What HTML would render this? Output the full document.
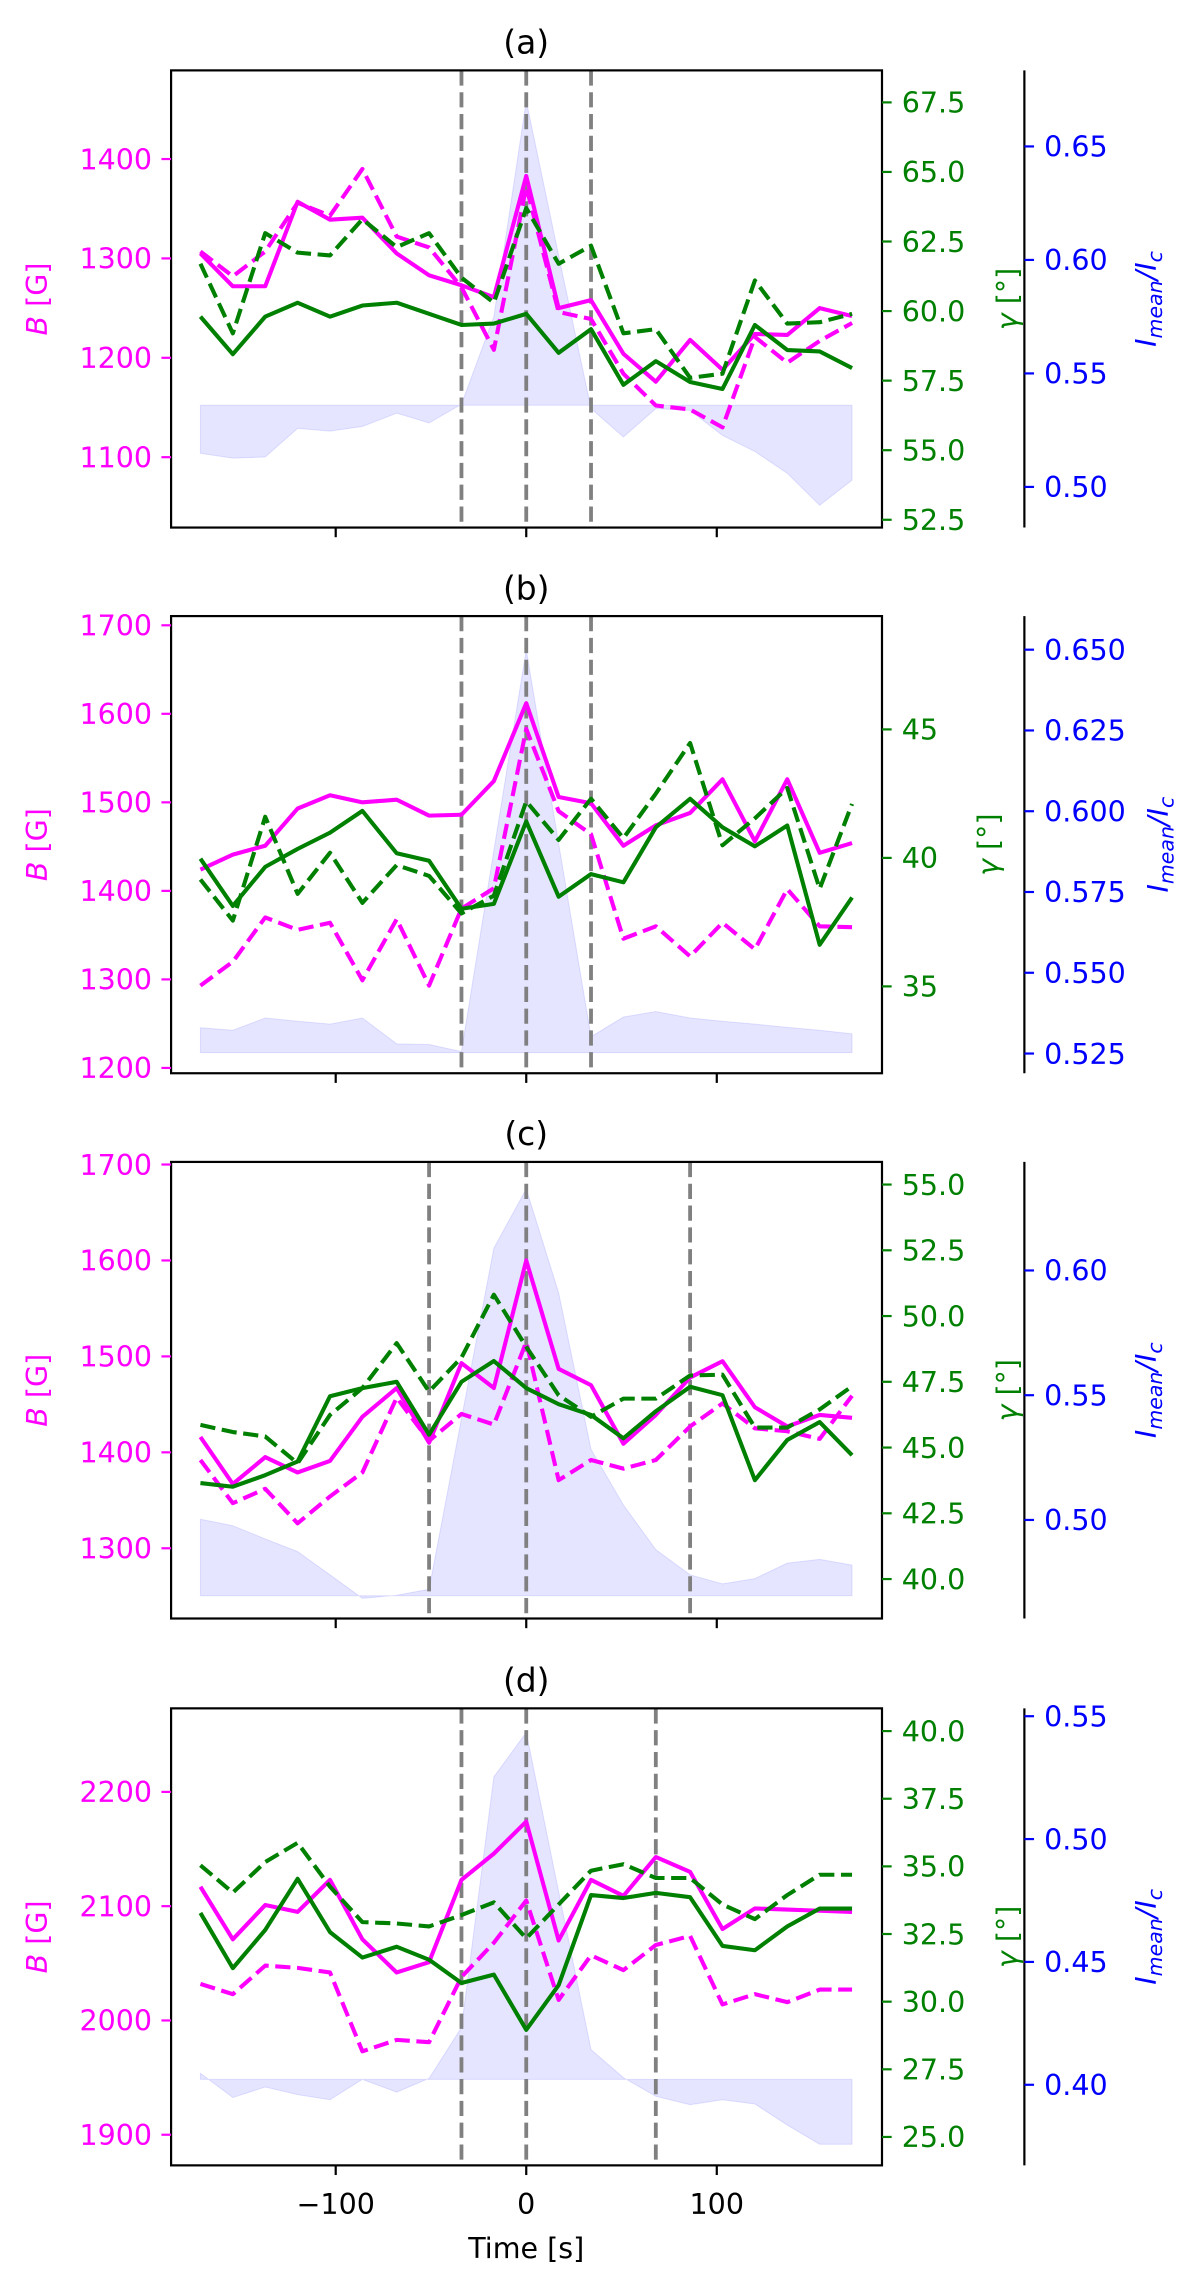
<!DOCTYPE html>
<html><head><meta charset="utf-8"><title>Time series panels</title>
<style>html,body{margin:0;padding:0;background:#fff}svg{display:block}</style></head>
<body>
<svg id="fig" xmlns="http://www.w3.org/2000/svg" width="1200" height="2282" viewBox="0 0 820 1559.4" font-family="'DejaVu Sans','Liberation Sans',sans-serif">
<rect width="820" height="1559.4" fill="#fff"/>
</svg>
<script>
// ---- data ----
const times = [-171,-154,-137,-120,-103,-86,-68,-51,-34,-17,0,17,34,51,68,86,103,120,137,154,171];
const panelLabels = ['(a)','(b)','(c)','(d)'];
const markerTimes = [[-34,0,34],[-34,0,34],[-51,0,86],[-34,0,68]];

const aBsolid = [1305,1272,1272,1357,1339,1341,1305,1283,1273,1261,1383,1250,1258,1204,1176,1218,1188,1224,1223,1250,1242];
const aBdash  = [1307,1282,1307,1356,1343,1390,1322,1311,1271,1208,1372,1246,1239,1184,1152,1148,1130,1221,1195,1217,1235];
const aGsolid = [59.8,58.45,59.8,60.3,59.8,60.2,60.3,59.9,59.5,59.55,59.9,58.5,59.35,57.35,58.2,57.45,57.2,59.5,58.6,58.55,57.95];
const aGdash  = [61.7,59.2,62.8,62.1,62.0,63.3,62.3,62.8,61.2,60.3,63.7,61.7,62.35,59.2,59.35,57.6,57.75,61.1,59.55,59.6,59.9];
const aI      = [0.5148,0.5127,0.5132,0.5258,0.5246,0.5266,0.5325,0.5282,0.5364,0.575,0.670,0.602,0.5345,0.522,0.5345,0.5337,0.5227,0.5156,0.506,0.4919,0.503];
const aIbase  = 0.536;

const bBsolid = [1424,1441,1451,1493,1508,1500,1503,1485,1486,1524,1612,1506,1499,1451,1474,1488,1526,1456,1526,1443,1454];
const bBdash  = [1293,1320,1370,1356,1364,1299,1368,1293,1380,1403,1583,1490,1464,1346,1360,1326,1364,1334,1402,1360,1359];
const bGsolid = [39.97,38.13,39.65,40.35,40.98,41.83,40.18,39.89,38.02,38.21,41.42,38.49,39.37,39.05,41.19,42.30,41.19,40.45,41.26,36.62,38.46];
const bGdash  = [39.16,37.56,41.6,38.6,40.2,38.25,39.72,39.3,37.84,38.53,42.2,40.7,42.3,40.77,42.5,44.47,40.49,41.54,42.72,38.8,42.1];
const bI      = [0.533,0.5322,0.536,0.535,0.5341,0.536,0.528,0.5278,0.5256,0.5878,0.65,0.59,0.5302,0.5363,0.538,0.536,0.535,0.5341,0.5331,0.5322,0.5311];
const bIbase  = 0.5253;

const cBsolid = [1416,1367,1395,1379,1391,1437,1467,1410,1493,1467,1600,1487,1470,1409,1439,1478,1495,1447,1427,1439,1436];
const cBdash  = [1392,1347,1362,1326,1354,1379,1457,1412,1440,1429,1515,1371,1392,1383,1392,1427,1451,1425,1422,1414,1459];
const cGsolid = [43.65,43.51,43.95,44.47,46.95,47.26,47.5,45.49,47.5,48.29,47.26,46.65,46.24,45.35,46.38,47.31,46.99,43.76,45.29,45.97,44.71];
const cGdash  = [45.86,45.59,45.42,44.4,46.24,47.26,48.97,47.13,48.42,50.81,48.83,46.99,46.17,46.86,46.86,47.74,47.77,45.76,45.76,46.45,47.33];
const cI      = [0.5003,0.4977,0.4924,0.4873,0.478,0.4686,0.4698,0.4722,0.5406,0.6089,0.6327,0.591,0.5283,0.506,0.4881,0.478,0.4744,0.4765,0.4827,0.4842,0.4819];
const cIbase  = 0.4696;

const dBsolid = [2117,2071,2101,2095,2123,2071,2042,2051,2123,2146,2174,2070,2123,2109,2143,2130,2080,2098,2097,2096,2095];
const dBdash  = [2032,2023,2048,2046,2042,1973,1983,1981,2038,2068,2105,2018,2057,2044,2066,2074,2014,2023,2016,2027,2027];
const dGsolid = [33.28,31.24,32.65,34.54,32.57,31.63,32.03,31.55,30.69,31.0,28.96,30.61,33.94,33.83,34.02,33.86,32.06,31.9,32.78,33.44,33.44];
const dGdash  = [35.04,34.03,35.16,35.87,34.25,32.94,32.89,32.78,33.2,33.67,32.34,33.59,34.84,35.08,34.57,34.57,33.59,33.05,33.94,34.69,34.69];
const dI      = [0.4047,0.3948,0.3991,0.396,0.3939,0.4022,0.397,0.4026,0.4233,0.5253,0.5434,0.4786,0.4143,0.4029,0.3953,0.3919,0.3939,0.3922,0.3836,0.3758,0.3758];
const dIbase  = 0.4022;

const xTicks = [-100,0,100];
const xTickLabels = ['\u2212100','0','100'];
const aBticks = [1100,1200,1300,1400];
const aGticks = [52.5,55,57.5,60,62.5,65,67.5];
const aIticks = [0.50,0.55,0.60,0.65];
const bBticks = [1200,1300,1400,1500,1600,1700];
const bGticks = [35,40,45];
const bIticks = [0.525,0.55,0.575,0.6,0.625,0.65];
const cBticks = [1300,1400,1500,1600,1700];
const cGticks = [40,42.5,45,47.5,50,52.5,55];
const cIticks = [0.50,0.55,0.60];
const dBticks = [1900,2000,2100,2200];
const dGticks = [25,27.5,30,32.5,35,37.5,40];
const dIticks = [0.40,0.45,0.50,0.55];

// ---- layout (not data) ----
const NS = 'http://www.w3.org/2000/svg';
const svg = document.getElementById('fig');
const L = 116.9, R = 602.7, SP3 = 700;
const X0 = 359.6, XS = 1.302;
function xs(t){ return X0 + t * XS; }
const MAG = '#ff00ff', GRN = '#008000', BLU = '#0000ff';

const panels = [
 {key:'a', top:48.1, bot:360.5, B:[1029.2,1489.2], G:[52.22,68.65], I:[0.4821,0.6835],
  Bs:aBsolid,Bd:aBdash,Gs:aGsolid,Gd:aGdash,Iv:aI,Ib:aIbase,bt:aBticks,gt:aGticks,it:aIticks,gdec:1,idec:2},
 {key:'b', top:421.0, bot:733.4, B:[1194,1710.4], G:[31.62,49.41], I:[0.5189,0.6604],
  Bs:bBsolid,Bd:bBdash,Gs:bGsolid,Gd:bGdash,Iv:bI,Ib:bIbase,bt:bBticks,gt:bGticks,it:bIticks,gdec:0,idec:3},
 {key:'c', top:794.0, bot:1106.0, B:[1226.8,1702.7], G:[38.5,55.86], I:[0.4605,0.6435],
  Bs:cBsolid,Bd:cBdash,Gs:cGsolid,Gd:cGdash,Iv:cI,Ib:cIbase,bt:cBticks,gt:cGticks,it:cIticks,gdec:1,idec:2},
 {key:'d', top:1167.4, bot:1479.7, B:[1873.2,2273.1], G:[23.95,40.84], I:[0.3672,0.5532],
  Bs:dBsolid,Bd:dBdash,Gs:dGsolid,Gd:dGdash,Iv:dI,Ib:dIbase,bt:dBticks,gt:dGticks,it:dIticks,gdec:1,idec:2}
];

function mk(tag, attrs, parent){
  const e = document.createElementNS(NS, tag);
  for (const k in attrs) e.setAttribute(k, attrs[k]);
  (parent || svg).appendChild(e);
  return e;
}
function txt(s, attrs, parent){ const e = mk('text', attrs, parent); e.textContent = s; return e; }

panels.forEach((p, pi) => {
  const g = mk('g', {});
  
  
  const yB = v => p.bot - (v - p.B[0]) / (p.B[1] - p.B[0]) * (p.bot - p.top);
  const yG = v => p.bot - (v - p.G[0]) / (p.G[1] - p.G[0]) * (p.bot - p.top);
  const yI = v => p.bot - (v - p.I[0]) / (p.I[1] - p.I[0]) * (p.bot - p.top);

  let d = 'M' + xs(times[0]) + ',' + yI(p.Ib);
  times.forEach((t, i) => { d += ' L' + xs(t) + ',' + yI(p.Iv[i]); });
  d += ' L' + xs(times[times.length-1]) + ',' + yI(p.Ib) + ' Z';
  const f = mk('path', {d:d, fill:'#0000ff', 'fill-opacity':0.1, stroke:'#0000ff', 'stroke-opacity':0.1, 'stroke-width':0.7}, g);
  
  

  markerTimes[pi].forEach(t => {
    const v = mk('line', {x1:xs(t), x2:xs(t), y1:p.top, y2:p.bot, stroke:'#808080', 'stroke-width':2.6, 'stroke-dasharray':'10.4 4.5'}, g);
    
    
  });

  function series(vals, yf, color, dashed, name){
    const pts = times.map((t, i) => xs(t).toFixed(2) + ',' + yf(vals[i]).toFixed(2)).join(' ');
    const a = {points:pts, fill:'none', stroke:color, 'stroke-width':2.8, 'stroke-linejoin':'round'};
    if (dashed) a['stroke-dasharray'] = '10.4 4.5';
    const pl = mk('polyline', a, g);
    
    
  }
  series(p.Bd, yB, MAG, true, 'b-dashed-line-' + p.key);
  series(p.Bs, yB, MAG, false, 'b-solid-line-' + p.key);
  series(p.Gd, yG, GRN, true, 'gamma-dashed-line-' + p.key);
  series(p.Gs, yG, GRN, false, 'gamma-solid-line-' + p.key);

  const fr = mk('rect', {x:L, y:p.top, width:R-L, height:p.bot-p.top, fill:'none', stroke:'#000', 'stroke-width':1.5}, g);
  
  
  const s3 = mk('line', {x1:SP3, x2:SP3, y1:p.top, y2:p.bot, stroke:'#000', 'stroke-width':1.5}, g);
  
  

  const ti = txt(panelLabels[pi], {x:X0, y:p.top - 11.5, 'text-anchor':'middle', 'font-size':22.5, fill:'#000'}, g);
  
  

  xTicks.forEach((t, i) => {
    const tk = mk('line', {x1:xs(t), x2:xs(t), y1:p.bot, y2:p.bot+6.6, stroke:'#000', 'stroke-width':1.5}, g);
    
    
    if (pi === 3) {
      const tl = txt(xTickLabels[i], {x:xs(t), y:1512.8, 'text-anchor':'middle', 'font-size':19.5, fill:'#000'}, g);
      
      
    }
  });

  p.bt.forEach(v => {
    const y = yB(v);
    const tk = mk('line', {x1:L-6.6, x2:L, y1:y, y2:y, stroke:MAG, 'stroke-width':1.5}, g);
    
    
    const tl = txt(String(v), {x:L-13, y:y+7, 'text-anchor':'end', 'font-size':19.5, fill:MAG}, g);
    
    
  });
  p.gt.forEach(v => {
    const y = yG(v);
    const tk = mk('line', {x1:R, x2:R+6.6, y1:y, y2:y, stroke:GRN, 'stroke-width':1.5}, g);
    
    
    const tl = txt(v.toFixed(p.gdec), {x:R+13.5, y:y+7, 'text-anchor':'start', 'font-size':19.5, fill:GRN}, g);
    
    
  });
  p.it.forEach(v => {
    const y = yI(v);
    const tk = mk('line', {x1:SP3, x2:SP3+6.6, y1:y, y2:y, stroke:BLU, 'stroke-width':1.5}, g);
    
    
    const tl = txt(v.toFixed(p.idec), {x:SP3+13.5, y:y+7, 'text-anchor':'start', 'font-size':19.5, fill:BLU}, g);
    
    
  });

  const cy = (p.top + p.bot) / 2;
  const bl = mk('text', {x:0, y:0, transform:'translate(32,' + cy + ') rotate(-90)', 'text-anchor':'middle', 'font-size':19.5, fill:MAG}, g);
  bl.innerHTML = '<tspan font-style="italic">B</tspan> [G]';
  
  
  const gl = mk('text', {x:0, y:0, transform:'translate(' + (p.key==='b'?682:695) + ',' + cy + ') rotate(-90)', 'text-anchor':'middle', 'font-size':19.5, fill:GRN}, g);
  gl.innerHTML = '<tspan font-style="italic">γ</tspan> [°]';
  
  
  const il = mk('text', {x:0, y:0, transform:'translate(' + (p.key==='b'?798:790) + ',' + cy + ') rotate(-90)', 'text-anchor':'middle', 'font-size':19.5, fill:BLU, 'font-style':'italic'}, g);
  il.innerHTML = 'I<tspan font-size="14" dy="4">mean</tspan><tspan dy="-4">/I</tspan><tspan font-size="14" dy="4">c</tspan>';
  
  
});

const xl = txt('Time [s]', {x:X0, y:1543, 'text-anchor':'middle', 'font-size':19.5, fill:'#000'});


</script>
</body></html>
